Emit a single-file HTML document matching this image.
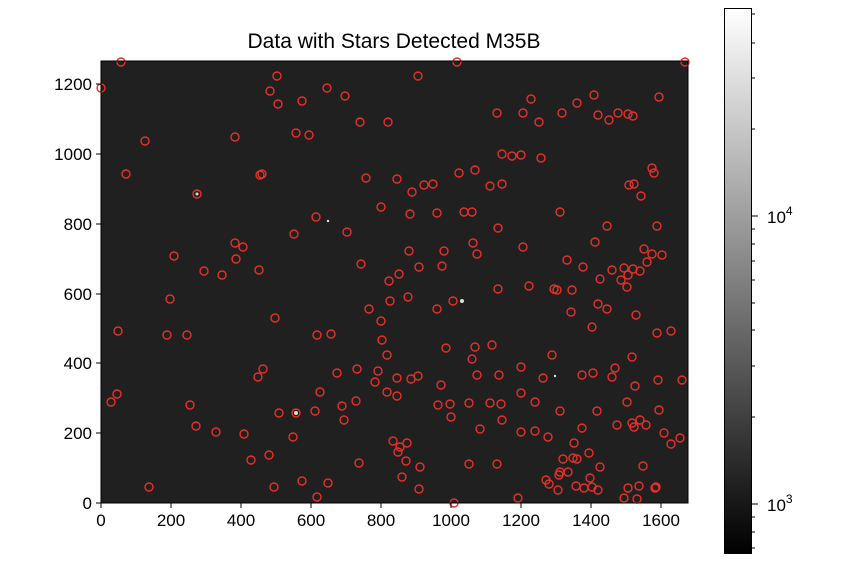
<!DOCTYPE html>
<html><head><meta charset="utf-8"><style>
body{margin:0;background:#fff;}
text{font-family:"Liberation Sans","DejaVu Sans",sans-serif;fill:#000;}
</style></head><body>
<svg width="847" height="564" viewBox="0 0 847 564" xmlns="http://www.w3.org/2000/svg">
<defs>
<linearGradient id="g" x1="0" y1="1" x2="0" y2="0">
<stop offset="0" stop-color="#000"/><stop offset="0.5" stop-color="#808080"/><stop offset="1" stop-color="#fff"/>
</linearGradient>
</defs>
<text x="394" y="48" font-size="21" text-anchor="middle">Data with Stars Detected M35B</text>
<rect x="101" y="61" width="587" height="442" fill="#202020"/>
<g fill="#ddd">
<circle cx="296" cy="413" r="2"/><circle cx="462" cy="301" r="2"/><circle cx="197" cy="194" r="1.5"/><circle cx="328" cy="221" r="1.2"/><circle cx="555" cy="376" r="1.2"/>
</g>
<g fill="none" stroke="#e8302a" stroke-width="1.4" id="c"></g>
<rect x="101" y="61" width="587" height="442" fill="none" stroke="#000" stroke-width="1"/>
<g stroke="#000" stroke-width="1">
<line x1="101" y1="503" x2="101" y2="508"/><line x1="171" y1="503" x2="171" y2="508"/><line x1="241" y1="503" x2="241" y2="508"/><line x1="311" y1="503" x2="311" y2="508"/><line x1="381" y1="503" x2="381" y2="508"/><line x1="451" y1="503" x2="451" y2="508"/><line x1="521" y1="503" x2="521" y2="508"/><line x1="591" y1="503" x2="591" y2="508"/><line x1="661" y1="503" x2="661" y2="508"/>
<line x1="96" y1="503" x2="101" y2="503"/><line x1="96" y1="433" x2="101" y2="433"/><line x1="96" y1="363" x2="101" y2="363"/><line x1="96" y1="294" x2="101" y2="294"/><line x1="96" y1="224" x2="101" y2="224"/><line x1="96" y1="154" x2="101" y2="154"/><line x1="96" y1="84" x2="101" y2="84"/>
</g>
<g font-size="17" text-anchor="middle">
<text x="101" y="526">0</text><text x="171" y="526">200</text><text x="241" y="526">400</text><text x="311" y="526">600</text><text x="381" y="526">800</text><text x="451" y="526">1000</text><text x="521" y="526">1200</text><text x="591" y="526">1400</text><text x="661" y="526">1600</text>
</g>
<g font-size="17" text-anchor="end">
<text x="92" y="509">0</text><text x="92" y="439">200</text><text x="92" y="369">400</text><text x="92" y="300">600</text><text x="92" y="230">800</text><text x="92" y="160">1000</text><text x="92" y="90">1200</text>
</g>
<rect x="724.5" y="8.5" width="27" height="545" fill="url(#g)" stroke="#000" stroke-width="1"/>
<g stroke="#000" stroke-width="1">
<line x1="752" y1="216" x2="758" y2="216"/><line x1="752" y1="504" x2="758" y2="504"/>
<line x1="752" y1="14" x2="755" y2="14"/><line x1="752" y1="43" x2="755" y2="43"/><line x1="752" y1="78" x2="755" y2="78"/><line x1="752" y1="129" x2="755" y2="129"/>
<line x1="752" y1="229" x2="755" y2="229"/><line x1="752" y1="244" x2="755" y2="244"/><line x1="752" y1="261" x2="755" y2="261"/><line x1="752" y1="280" x2="755" y2="280"/><line x1="752" y1="303" x2="755" y2="303"/><line x1="752" y1="330" x2="755" y2="330"/><line x1="752" y1="366" x2="755" y2="366"/><line x1="752" y1="417" x2="755" y2="417"/>
<line x1="752" y1="517" x2="755" y2="517"/><line x1="752" y1="532" x2="755" y2="532"/><line x1="752" y1="548" x2="755" y2="548"/>
</g>
<text x="767" y="223" font-size="17">10<tspan dy="-8" font-size="12">4</tspan></text>
<text x="767" y="511" font-size="17">10<tspan dy="-8" font-size="12">3</tspan></text>
</svg>
<script>
var p=[[121,62],[457,62],[685,62],[277,76],[418,76],[101,88],[270,91],[327,88],[345,96],[302,101],[278,104],[531,99],[594,95],[659,97],[618,113],[633,116],[497,113],[523,113],[562,113],[577,103],[539,122],[360,122],[388,122],[235,137],[145,141],[296,133],[309,135],[502,154],[512,156],[521,155],[541,158],[598,115],[628,114],[609,120],[459,173],[475,170],[490,186],[502,184],[397,179],[366,178],[424,185],[433,184],[262,174],[126,174],[197,194],[260,175],[316,217],[410,214],[437,213],[412,192],[381,207],[464,212],[472,212],[498,228],[560,212],[629,185],[634,184],[641,196],[652,168],[654,173],[607,226],[657,226],[235,243],[236,259],[174,256],[243,247],[294,234],[347,232],[361,264],[409,251],[419,267],[389,281],[399,274],[259,270],[204,271],[222,275],[442,266],[444,251],[473,243],[477,254],[523,247],[595,242],[567,260],[583,267],[598,304],[612,270],[624,268],[628,275],[633,269],[640,271],[644,249],[652,254],[662,255],[621,280],[627,287],[647,262],[572,290],[557,290],[600,279],[170,299],[118,331],[167,335],[187,335],[275,318],[317,335],[331,334],[369,309],[381,321],[390,301],[408,297],[437,309],[453,301],[498,289],[529,286],[554,289],[571,312],[592,327],[607,309],[636,315],[671,331],[657,333],[382,340],[446,348],[475,347],[492,345],[472,359],[378,371],[387,355],[357,369],[337,373],[375,382],[387,392],[397,396],[397,378],[411,379],[441,385],[499,375],[477,375],[469,403],[438,405],[418,376],[450,404],[451,417],[480,429],[501,404],[521,393],[543,378],[552,355],[521,367],[582,375],[615,368],[632,357],[612,377],[593,373],[635,386],[658,380],[682,380],[627,402],[597,411],[521,432],[548,437],[535,431],[563,459],[573,458],[589,453],[546,480],[559,475],[600,467],[643,466],[655,488],[637,499],[576,486],[577,459],[574,443],[502,420],[469,464],[407,443],[359,463],[356,401],[344,420],[315,411],[320,392],[296,413],[279,413],[258,377],[263,369],[293,437],[342,406],[269,455],[196,426],[190,405],[117,394],[111,402],[149,487],[216,432],[244,434],[251,460],[274,487],[302,481],[317,497],[328,483],[393,441],[400,447],[402,477],[406,461],[420,467],[419,489],[398,452],[497,464],[518,498],[454,503],[490,403],[535,402],[549,484],[560,472],[590,478],[584,488],[558,490],[592,487],[598,490],[624,498],[628,488],[639,486],[656,487],[680,438],[664,433],[659,410],[640,420],[632,423],[671,444],[634,427],[646,425],[617,425],[582,428],[560,411],[568,472]];
var g=document.getElementById('c'),s='';
p.forEach(function(a){s+='<circle cx="'+a[0]+'" cy="'+a[1]+'" r="4"/>';});
g.innerHTML=s;
</script>
</body></html>
